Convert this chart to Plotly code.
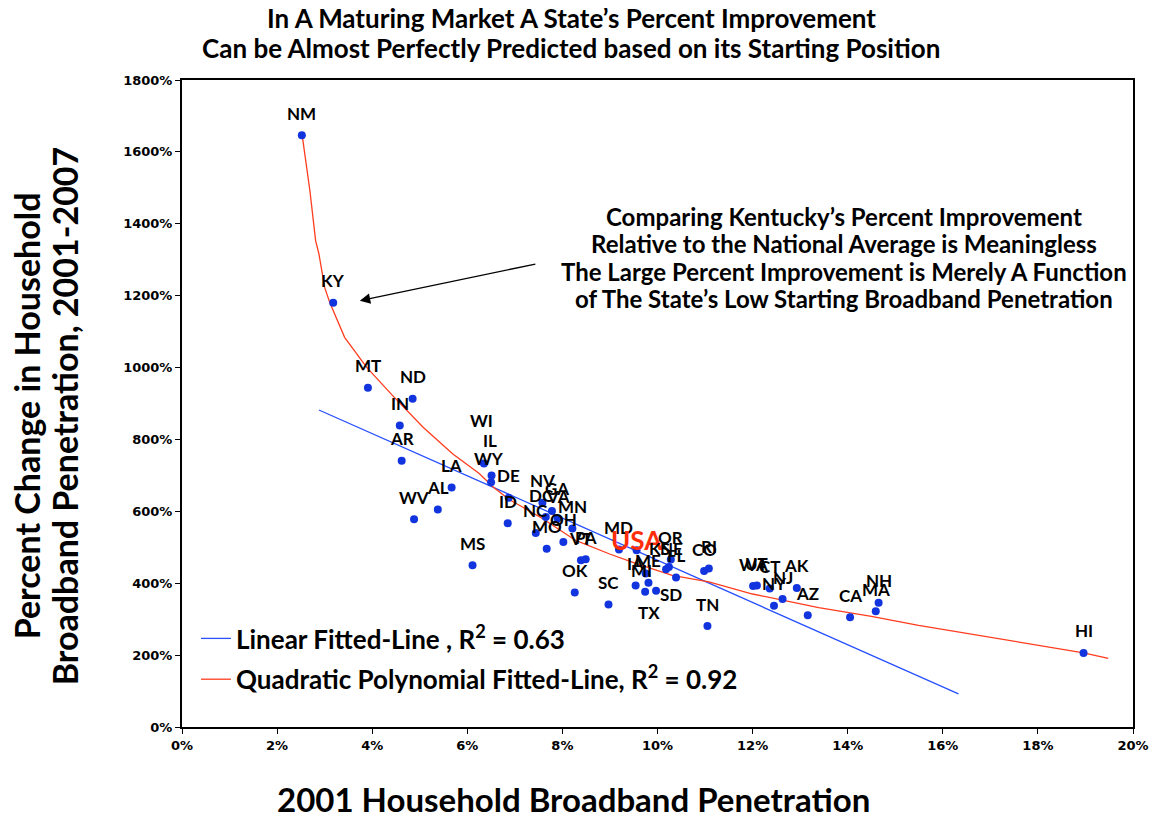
import plotly.graph_objects as go

# ---- data ----
states = ["NM","KY","MT","ND","IN","AR","LA","AL","WV","MS","WI","IL","WY","DE","ID",
          "NV","GA","DC","VA","NC","MN","OH","MO","VT","PA","OK","SC","MD","USA","KS",
          "OR","NE","FL","IA","ME","MI","TX","SD","TN","CO","RI","WA","UT","CT","NJ",
          "NY","AK","AZ","CA","NH","MA","HI"]
penetration_2001 = [2.52,3.18,3.91,4.85,4.58,4.62,5.67,5.38,4.88,6.11,6.35,6.51,6.50,6.87,6.85,
                    7.58,7.78,7.65,7.90,7.44,8.21,8.02,7.67,8.39,8.49,8.26,8.97,9.19,9.56,10.18,
                    10.28,10.24,10.39,9.54,9.81,9.75,9.74,9.97,11.05,10.98,11.08,12.01,12.09,12.36,12.63,
                    12.45,12.93,13.16,14.05,14.65,14.59,18.96]
pct_change = [1646,1180,944,913,839,741,666,605,578,450,733,700,681,638,567,
              624,601,584,580,540,552,515,496,464,467,374,341,494,492,439,
              466,445,416,394,401,427,376,379,281,434,441,392,394,385,356,
              337,387,311,305,346,322,206]

linear_x = [2.88, 16.33]
linear_y = [882, 92]

quad_x = [2.53,2.69,2.81,2.88,3.00,3.11,3.42,3.88,4.43,4.93,5.07,5.69,6.25,6.55,6.88,7.16,
          7.58,8.28,8.98,9.54,10.31,11.08,12.0,13.39,14.5,15.49,16.2,17.5,18.96,19.48]
quad_y = [1644,1492,1353,1316,1223,1180,1084,1001,922,853,834,760,705,667,633,612,
          580,519,482,455,422,404,370,332,308,283,267,237,206,191]

x_ticks = [0,2,4,6,8,10,12,14,16,18,20]
y_ticks = [0,200,400,600,800,1000,1200,1400,1600,1800]

title_lines = ["In A Maturing Market A State’s Percent Improvement",
               "Can be Almost Perfectly Predicted based on its Starting Position"]
note_lines = ["Comparing Kentucky’s Percent Improvement",
              "Relative to the National Average is Meaningless",
              "The Large Percent Improvement is Merely A Function",
              "of The State’s Low Starting Broadband Penetration"]
ytitle_lines = ["Percent Change in Household", "Broadband Penetration, 2001-2007"]
xtitle = "2001 Household Broadband Penetration"

# ---- styles ----
FONT = "Lato"
DOT = "rgb(18,52,222)"
BLUE = "rgb(40,80,255)"
RED = "rgb(255,60,30)"
OFF = 8  # default page margin of the html body
W, H = 1161 - OFF, 816 - OFF
L, T, R, B = 182 - OFF, 80 - OFF, 26, 89
PW, PH = W - L - R, H - T - B


def px(xp):
    return (xp - 182) / PW


def py(yp):
    return (727 - yp) / PH


label_nudge = {"WI": (-2, 43), "IL": (-2, 35), "WY": (-2, 24), "USA": (0, 10),
               "KS": (-7, 21), "NE": (3, 19), "MI": (-4, 3), "TX": (4, -21),
               "SD": (15, -4), "DC": (-4, 22), "GA": (5, 22)}

fig = go.Figure()
fig.add_trace(go.Scatter(x=linear_x, y=linear_y, mode="lines",
                         line=dict(color=BLUE, width=1.3),
                         name="Linear Fitted-Line , R<sup>2</sup> = 0.63", legendgroup="a"))
fig.add_trace(go.Scatter(x=quad_x, y=quad_y, mode="lines",
                         line=dict(color=RED, width=1.3),
                         name="Quadratic Polynomial Fitted-Line, R<sup>2</sup> = 0.92", legendgroup="b"))
fig.add_trace(go.Scatter(x=penetration_2001, y=pct_change, mode="markers",
                         marker=dict(color=DOT, size=8), showlegend=False,
                         hoverinfo="text", text=states))

annotations = []
for s, xv, yv in zip(states, penetration_2001, pct_change):
    dx, dy = label_nudge.get(s, (0, 22))
    if s == "USA":
        f = dict(family=FONT, size=26, color="rgb(255,45,10)", weight="bold")
    else:
        f = dict(family=FONT, size=17, color="black", weight="bold")
    annotations.append(dict(x=xv, y=yv, xref="x", yref="y", text=s, showarrow=False,
                            xanchor="center", yanchor="middle",
                            xshift=dx, yshift=dy, font=f))

# arrow pointing at KY
annotations.append(dict(x=3.74, y=1186, xref="x", yref="y", ax=177, ay=-37,
                        showarrow=True, arrowhead=2, arrowsize=1.6, arrowwidth=1.3,
                        arrowcolor="black", text=""))


def paper_text(txt, xp, yp, size, angle=0):
    return dict(x=px(xp), y=py(yp), xref="paper", yref="paper",
                xanchor="center", yanchor="middle", showarrow=False, textangle=angle,
                text=txt, font=dict(family=FONT, size=size, color="black", weight="bold"))


for txt, yp in zip(note_lines, [216, 244, 271, 298]):
    annotations.append(paper_text(txt, 845, yp, 24))
for txt, yp in zip(title_lines, [18, 48]):
    annotations.append(paper_text(txt, 572, yp, 26))
annotations.append(paper_text(xtitle, 574, 799, 33))
for txt, xp in zip(ytitle_lines, [26, 64]):
    annotations.append(paper_text(txt, xp, 416, 34, angle=-90))

tickfont = dict(family="DejaVu Sans", size=13, color="black", weight="bold")
fig.update_layout(
    width=W, height=H,
    margin=dict(l=L, r=R, t=T, b=B),
    paper_bgcolor="white", plot_bgcolor="white",
    annotations=annotations,
    legend=dict(x=px(196), y=py(615), xanchor="left", yanchor="top",
                font=dict(family=FONT, size=26, color="black", weight="bold"),
                bgcolor="rgba(0,0,0,0)", tracegroupgap=4),
    xaxis=dict(range=[0, 20], tickvals=x_ticks, ticktext=[f"{v}%" for v in x_ticks],
               showgrid=False, zeroline=False, showline=True, linecolor="black", linewidth=2,
               mirror=True, ticks="outside", ticklen=5, tickcolor="black", tickfont=tickfont),
    yaxis=dict(range=[0, 1800], tickvals=y_ticks, ticktext=[f"{v}%" for v in y_ticks],
               showgrid=False, zeroline=False, showline=True, linecolor="black", linewidth=2,
               mirror=True, ticks="outside", ticklen=5, tickcolor="black", tickfont=tickfont),
)

fig.write_html("out.html")
